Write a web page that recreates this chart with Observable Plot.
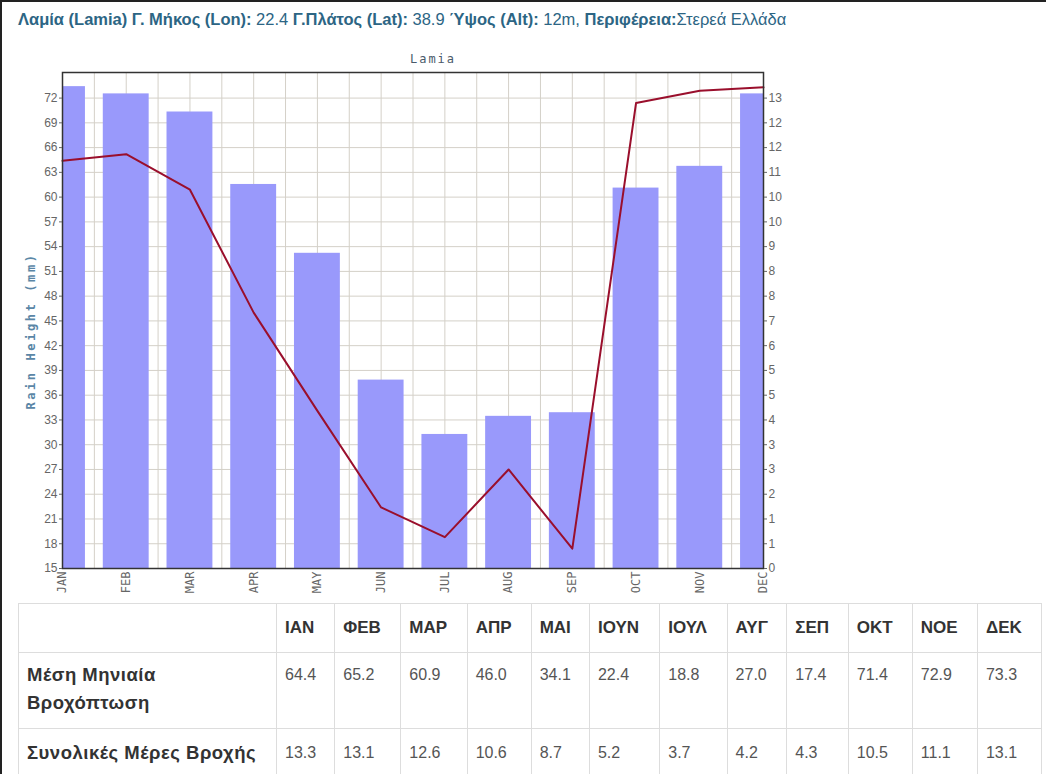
<!DOCTYPE html>
<html>
<head>
<meta charset="utf-8">
<script src="https://cdn.jsdelivr.net/npm/d3@7"></script>
<script src="https://cdn.jsdelivr.net/npm/@observablehq/plot@0.6"></script>
<style>
  html, body { margin: 0; padding: 0; background: #fff; }
  body { width: 1056px; height: 774px; position: relative; overflow: hidden; font-family: "Liberation Sans", Arial, sans-serif; }
  #frame { position: absolute; left: 0; top: 0; width: 1044px; height: 780px; border-left: 2px solid #222; border-top: 2px solid #222; }
  #title { position: absolute; left: 18px; top: 10px; font-size: 16.5px; color: #2c6584; white-space: nowrap; }
  #title b { font-weight: bold; }
  #ctitle { position: absolute; left: 433px; top: 52px; transform: translateX(-50%); font-family: "DejaVu Sans Mono", monospace; font-size: 12px; letter-spacing: 2px; color: #4a5a6a; }
  #ylab { position: absolute; left: 31px; top: 331px; transform: translate(-50%, -50%) rotate(-90deg); font-family: "DejaVu Sans Mono", monospace; font-weight: bold; font-size: 12px; letter-spacing: 2.6px; color: #5a86a6; white-space: nowrap; }
  #chart { position: absolute; left: 0; top: 40px; }
  #chart svg { overflow: visible; }
  table { position: absolute; left: 18px; top: 603px; width: 1024px; border-collapse: collapse; font-size: 16px; color: #555; }
  td, th { border: 1px solid #ddd; padding: 0 8px; text-align: left; line-height: 28px; }
  th { font-weight: bold; color: #333; font-size: 17px; height: 48px; vertical-align: middle; }
  tr.r2 td { height: 74px; padding-top: 8px; padding-bottom: 11px; vertical-align: top; box-sizing: border-box; }
  tr.r3 td { padding-top: 10px; padding-bottom: 10px; vertical-align: top; }
  td.lab { font-weight: bold; color: #333; font-size: 18.5px; letter-spacing: 0.5px; }
</style>
</head>
<body>
<div id="frame"></div>
<div id="title"><b>Λαμία (Lamia) Γ. Μήκος (Lon):</b> 22.4 <b>Γ.Πλάτος (Lat):</b> 38.9 <b>Ύψος (Alt):</b> 12m, <b>Περιφέρεια:</b>Στερεά Ελλάδα</div>
<div id="ctitle">Lamia</div>
<div id="ylab">Rain Height (mm)</div>
<div id="chart"></div>
<table id="tbl"></table>
<script>
const months = ["JAN","FEB","MAR","APR","MAY","JUN","JUL","AUG","SEP","OCT","NOV","DEC"];
const greekMonths = ["ΙΑΝ","ΦΕΒ","ΜΑΡ","ΑΠΡ","ΜΑΙ","ΙΟΥΝ","ΙΟΥΛ","ΑΥΓ","ΣΕΠ","ΟΚΤ","ΝΟΕ","ΔΕΚ"];
const rainHeight = [64.4, 65.2, 60.9, 46.0, 34.1, 22.4, 18.8, 27.0, 17.4, 71.4, 72.9, 73.3];
const rainDays = [13.3, 13.1, 12.6, 10.6, 8.7, 5.2, 3.7, 4.2, 4.3, 10.5, 11.1, 13.1];
const leftTicks = [15,18,21,24,27,30,33,36,39,42,45,48,51,54,57,60,63,66,69,72];
const rowLabels = ["Μέση Μηνιαία Βροχόπτωση", "Συνολικές Μέρες Βροχής"];

const yMin = 15, yMax = 75.1;
const dayFactor = 4.39; // left-axis units per rain day (right axis)
const data = months.map((m, i) => ({i, month: m, mm: rainHeight[i], days: rainDays[i]}));
const gridX = d3.range(0, 11.001, 0.5);

const chart = Plot.plot({
  width: 880, height: 560,
  marginLeft: 62, marginRight: 117, marginTop: 32, marginBottom: 32,
  style: {fontFamily: "'Liberation Sans', Arial, sans-serif", color: "#666", background: "transparent"},
  x: {type: "linear", domain: [0, 11]},
  y: {domain: [yMin, yMax]},
  marks: [
    Plot.ruleY(leftTicks, {stroke: "#d4d0c8", strokeWidth: 1}),
    Plot.ruleX(gridX, {stroke: "#d4d0c8", strokeWidth: 1}),
    Plot.rectY(data, {x1: d => d.i - 0.36, x2: d => d.i + 0.36, y1: d => yMin, y2: d => yMin + d.days * dayFactor, fill: "#9999fb", clip: true}),
    Plot.lineY(data, {x: "i", y: "mm", stroke: "#9a0f2c", strokeWidth: 2}),
    Plot.frame({stroke: "#333", strokeWidth: 1.5}),
    Plot.axisY({anchor: "left", ticks: leftTicks, tickSize: 3, tickPadding: 2, label: null, fontSize: 12}),
    Plot.axisY({anchor: "right", ticks: leftTicks, tickSize: 3, tickPadding: 2, label: null, fontSize: 12, tickFormat: v => String(Math.round((v - yMin) / dayFactor))}),
    Plot.axisX({ticks: d3.range(12), tickFormat: i => months[i], tickRotate: -90, tickSize: 0, tickPadding: 3, label: null, fontSize: 12, fontFamily: "'DejaVu Sans Mono', monospace", letterSpacing: 1.5})
  ]
});
document.getElementById("chart").appendChild(chart);

// table
const tbl = document.getElementById("tbl");
let html = '<tr class="r1"><th style="width:241px"></th>' + greekMonths.map(m => `<th>${m}</th>`).join("") + "</tr>";
html += `<tr class="r2"><td class="lab">${rowLabels[0]}</td>` + rainHeight.map(v => `<td>${v.toFixed(1)}</td>`).join("") + "</tr>";
html += `<tr class="r3"><td class="lab">${rowLabels[1]}</td>` + rainDays.map(v => `<td>${v.toFixed(1)}</td>`).join("") + "</tr>";
tbl.innerHTML = html;
</script>
</body>
</html>
